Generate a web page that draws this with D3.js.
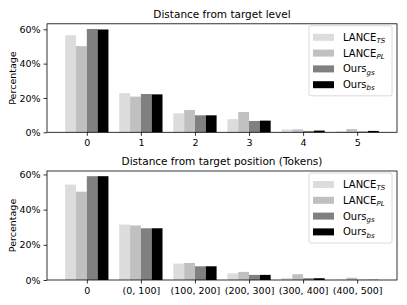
<!DOCTYPE html>
<html>
<head>
<meta charset="utf-8">
<script src="https://cdn.jsdelivr.net/npm/d3@7"></script>
<style>
  body { margin: 0; background: #fff; }
  svg { display: block; font-family: "DejaVu Sans", sans-serif; }
</style>
</head>
<body>
<svg id="svg" width="407" height="305"></svg>
<script>
var svg = d3.select("svg");

// series (legend order)
var seriesNames = [["LANCE", "TS"], ["LANCE", "PL"], ["Ours", "gs"], ["Ours", "bs"]];
var seriesColors = ["#dcdcdc", "#c0c0c0", "#808080", "#000000"];

// panel 1: distance from target level
var levelCats = ["0", "1", "2", "3", "4", "5"];
var levelTS = [56.5, 22.8, 11.0, 7.7, 1.7, 0.6];
var levelPL = [50.2, 20.8, 13.0, 11.8, 1.7, 1.9];
var levelGS = [60.2, 22.3, 9.9, 6.6, 0.8, 0.5];
var levelBS = [59.9, 22.1, 9.9, 6.8, 1.0, 0.8];

// panel 2: distance from target position
var posCats = ["0", "(0, 100]", "(100, 200]", "(200, 300]", "(300, 400]", "(400, 500]"];
var posTS = [54.2, 31.5, 9.3, 3.8, 1.1, 0.2];
var posPL = [50.2, 31.0, 9.7, 4.6, 3.3, 1.3];
var posGS = [59.0, 29.4, 7.8, 2.9, 1.0, 0.1];
var posBS = [59.0, 29.4, 7.8, 2.9, 1.0, 0.1];

var yTicks = [0, 20, 40, 60];

var left = 47, right = 397;

function panel(title, cats, series, top, bottom) {
	var g = svg.append("g");
	var n = cats.length;
	var x = d3.scaleLinear()
		.domain([-0.4 - 0.058 * (n - 0.2), n - 0.6 + 0.058 * (n - 0.2)])
		.range([left, right]);
	var maxV = d3.max(series, function (s) { return d3.max(s); });
	var y = d3.scaleLinear().domain([0, maxV * 1.05]).range([bottom, top]);

	var offsets = [-0.3, -0.1, 0.1, 0.3];
	series.forEach(function (vals, si) {
		g.append("g")
			.selectAll("rect")
			.data(vals)
			.enter().append("rect")
			.attr("x", function (d, i) { return x(i + offsets[si] - 0.1); })
			.attr("width", x(0.2) - x(0))
			.attr("y", function (d) { return y(d); })
			.attr("height", function (d) { return y(0) - y(d); })
			.style("fill", seriesColors[si]);
	});

	var yAxis = g.append("g")
		.attr("transform", "translate(" + left + ",0)")
		.call(d3.axisLeft(y).tickValues(yTicks).tickSize(3.5).tickPadding(3)
			.tickFormat(function (d) { return d + "%"; }));
	var xAxis = g.append("g")
		.attr("transform", "translate(0," + bottom + ")")
		.call(d3.axisBottom(x).tickValues(d3.range(n)).tickSize(3.5).tickPadding(3.5)
			.tickFormat(function (d) { return cats[d]; }));
	[yAxis, xAxis].forEach(function (a) {
		a.select(".domain").remove();
		a.selectAll("text").style("font-size", "9.5px").style("fill", "#000")
			.style("font-family", "DejaVu Sans");
		a.selectAll("line").style("stroke", "#000").style("stroke-width", 0.8);
	});

	g.append("rect")
		.attr("x", left).attr("y", top)
		.attr("width", right - left).attr("height", bottom - top)
		.style("fill", "none").style("stroke", "#000").style("stroke-width", 0.8);

	g.append("text")
		.attr("x", (left + right) / 2).attr("y", top - 6)
		.attr("text-anchor", "middle")
		.style("font-size", "10.5px")
		.text(title);

	g.append("text")
		.attr("transform", "translate(15.5," + ((top + bottom) / 2) + ") rotate(-90)")
		.attr("text-anchor", "middle")
		.style("font-size", "9.5px")
		.text("Percentage");

	// legend
	var lx = 309, ly = top + 2;
	var leg = g.append("g").attr("transform", "translate(" + lx + "," + ly + ")");
	leg.append("rect")
		.attr("width", 83).attr("height", 70).attr("rx", 2)
		.style("fill", "#fff").style("fill-opacity", 0.8)
		.style("stroke", "#d0d0d0").style("stroke-width", 0.8);
	seriesNames.forEach(function (s, i) {
		var cy = 11.5 + i * 15.8;
		leg.append("rect")
			.attr("x", 4).attr("y", cy - 3.5)
			.attr("width", 21).attr("height", 7)
			.style("fill", seriesColors[i]);
		var t = leg.append("text")
			.attr("x", 34).attr("y", cy + 3.5)
			.style("font-size", "10px");
		t.append("tspan").text(s[0]);
		t.append("tspan")
			.attr("dy", 2.2)
			.style("font-size", "7px")
			.style("font-style", "italic")
			.text(s[1]);
	});
}

panel("Distance from target level", levelCats, [levelTS, levelPL, levelGS, levelBS], 23.8, 132.3);
panel("Distance from target position (Tokens)", posCats, [posTS, posPL, posGS, posBS], 171, 280);
</script>
</body>
</html>
